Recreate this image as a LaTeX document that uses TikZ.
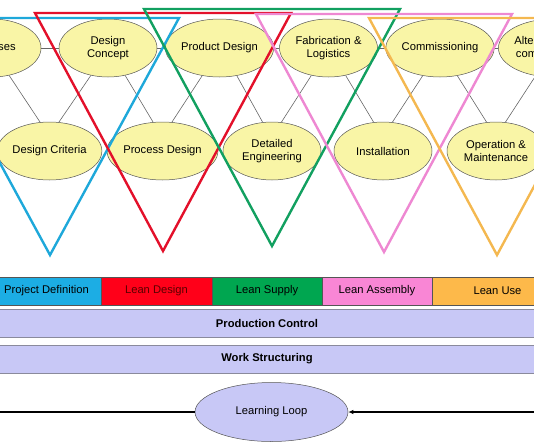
\documentclass[tikz,border=0pt]{standalone}
\usepackage{fontspec}
\setmainfont{Liberation Sans}
\usetikzlibrary{shapes.geometric,arrows.meta}
\definecolor{ellfill}{HTML}{F9F5A6}
\definecolor{ellborder}{HTML}{555555}
\definecolor{linkgray}{HTML}{666666}
\definecolor{tcyan}{HTML}{1EA8DA}
\definecolor{tred}{HTML}{E3102A}
\definecolor{tgreen}{HTML}{12A060}
\definecolor{tpink}{HTML}{EE88D2}
\definecolor{torange}{HTML}{F4B850}
\definecolor{pcyan}{HTML}{1CADE4}
\definecolor{pred}{HTML}{FF0019}
\definecolor{pgreen}{HTML}{00A650}
\definecolor{ppink}{HTML}{F986D5}
\definecolor{porange}{HTML}{FDB94A}
\definecolor{bandfill}{HTML}{C8C8F6}
\definecolor{bandborder}{HTML}{8A8A9C}
\definecolor{darkredtext}{HTML}{5A0000}
\begin{document}
\begin{tikzpicture}[x=1pt,y=-1pt,
  font=\fontsize{11.2}{13.6}\selectfont,
  task/.style={ellipse, draw=ellborder, line width=0.5pt, fill=ellfill,
    minimum width=98pt, minimum height=58pt, inner sep=0pt, align=center},
  link/.style={draw=linkgray, line width=0.6pt},
  tri/.style={line width=2.4pt, line join=miter},
  phase/.style={rectangle, draw=ellborder, line width=0.5pt, minimum height=28pt,
    inner sep=0pt},
  band/.style={rectangle, fill=bandfill, draw=bandborder, line width=1pt,
    minimum width=560pt, minimum height=28pt, inner sep=0pt,
    font=\fontsize{11.2}{13}\selectfont\bfseries},
  loopnode/.style={ellipse, fill=bandfill, draw=ellborder, line width=0.5pt,
    minimum width=153pt, minimum height=59pt, inner sep=0pt},
  loopline/.style={draw=black, line width=1.1pt}]
\useasboundingbox (0,0) rectangle (534,447);
\clip (0,0) rectangle (534,447);

% top row
\node[task] (pur)  at (-8,48)    {Purposes};
\node[task] (dcon) at (108,48)   {Design\\Concept};
\node[task] (pd)   at (219.5,48) {Product Design};
\node[task] (fab)  at (328.5,48) {Fabrication \&\\Logistics};
\node[task] (com)  at (440,48)   {Commissioning};
\node[task] (alt)  at (553,48)   {Alteration \& de-\\commissioning};
% bottom row
\node[task] (dcr) at (49.5,151)  {Design Criteria};
\node[task] (prd) at (162.5,151) {Process Design};
\node[task] (de)  at (272,151)   {Detailed\\Engineering};
\node[task] (ins) at (383,151)   {Installation};
\node[task] (om)  at (496,151)   {Operation \&\\Maintenance};

% links
\draw[link] (pur.east) -- (dcon.west);
\draw[link] (dcon.east) -- (pd.west);
\draw[link] (pd.east) -- (fab.west);
\draw[link] (fab.east) -- (com.west);
\draw[link] (com.east) -- (alt.west);
\draw[link] (pur.-58) -- (dcr.108);
\draw[link] (dcon.-122) -- (dcr.72);
\draw[link] (dcon.-58) -- (prd.108);
\draw[link] (pd.-122) -- (prd.72);
\draw[link] (pd.-58) -- (de.108);
\draw[link] (fab.-122) -- (de.72);
\draw[link] (fab.-58) -- (ins.108);
\draw[link] (com.-122) -- (ins.72);
\draw[link] (com.-58) -- (om.108);
\draw[link] (alt.-122) -- (om.72);

% triangles
\draw[tri, tcyan]   (-79,18) -- (179,18) -- (50,255) -- cycle;
\draw[tri, tred]    (35,13) -- (291,13) -- (163,251) -- cycle;
\draw[tri, tgreen]  (144,9) -- (400,9) -- (272,246) -- cycle;
\draw[tri, tpink]   (256,14) -- (512,14) -- (384,252) -- cycle;
\draw[tri, torange] (369,18) -- (625,18) -- (497,255) -- cycle;

% phase bar
\node[phase, fill=pcyan, minimum width=109pt] (p1) at (46.5,291) {Project Definition};
\node[phase, fill=pred, minimum width=111pt, text=darkredtext] (p2) at (156.5,291) {Lean Design};
\node[phase, fill=pgreen, minimum width=110pt] (p3) at (267,291) {Lean Supply};
\node[phase, fill=ppink, minimum width=110pt] (p4) at (377,291) {Lean Assembly};
\node[phase, fill=porange, minimum width=131pt] (p5) at (497.5,291) {Lean Use};

% bands
\node[band] (pc) at (267,323.5) {Production Control};
\node[band] (ws) at (267,359) {Work Structuring};

% learning loop
\node[loopnode] (ll) at (271.5,412) {Learning Loop};
\coordinate (lend) at (-4,412);
\coordinate (rend) at (540,412);
\draw[loopline] (ll.west) -- (lend);
\draw[loopline, -{Latex[length=5pt,width=4.5pt]}] (rend) -- (ll.east);
\end{tikzpicture}
\end{document}
